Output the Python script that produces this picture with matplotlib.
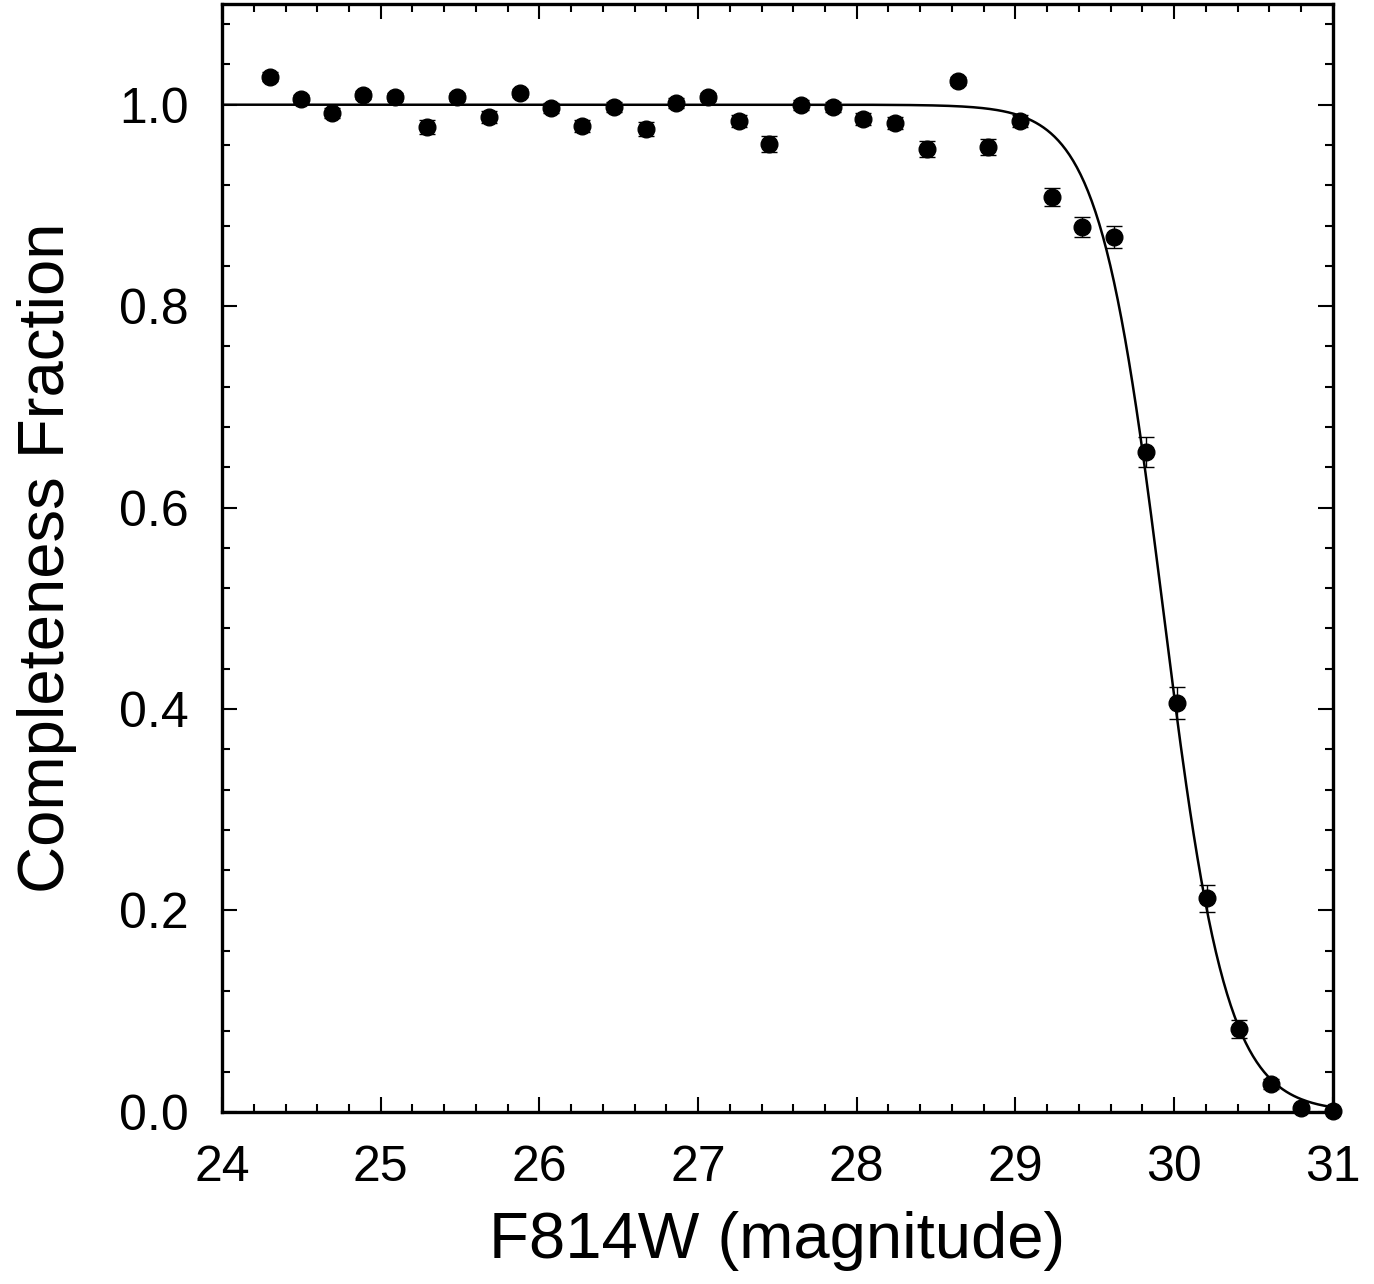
import numpy as np
import matplotlib
matplotlib.use("Agg")
import matplotlib.pyplot as plt
from matplotlib.ticker import MultipleLocator, FormatStrFormatter

plt.rcParams['font.family'] = ['Liberation Sans', 'DejaVu Sans']

# magnitude bins and measured completeness
mag = [24.30, 24.50, 24.69, 24.89, 25.09, 25.29, 25.48, 25.68, 25.88, 26.07,
       26.27, 26.47, 26.67, 26.86, 27.06, 27.26, 27.45, 27.65, 27.85, 28.04,
       28.24, 28.44, 28.64, 28.83, 29.03, 29.23, 29.42, 29.62, 29.82, 30.02,
       30.21, 30.41, 30.61, 30.80, 31.00]
frac = [1.028, 1.006, 0.992, 1.010, 1.008, 0.978, 1.008, 0.988, 1.012, 0.997,
        0.979, 0.998, 0.976, 1.002, 1.008, 0.984, 0.961, 1.000, 0.998, 0.986,
        0.982, 0.956, 1.024, 0.958, 0.984, 0.908, 0.879, 0.869, 0.655, 0.406,
        0.212, 0.082, 0.028, 0.004, 0.001]
err = [0.004, 0.004, 0.005, 0.004, 0.004, 0.007, 0.004, 0.006, 0.004, 0.005,
       0.006, 0.005, 0.007, 0.005, 0.004, 0.006, 0.008, 0.005, 0.005, 0.006,
       0.006, 0.008, 0.004, 0.008, 0.006, 0.009, 0.010, 0.011, 0.015, 0.016,
       0.013, 0.009, 0.005, 0.003, 0.001]

# logistic fit parameters
m50 = 29.93
width = 0.20

fig = plt.figure(figsize=(13.74, 12.84), dpi=100)
ax = fig.add_axes([0.1616, 0.134, 0.8084, 0.8629])

mm = np.linspace(24.0, 31.0, 600)
ax.plot(mm, 1.0 / (1.0 + np.exp((mm - m50) / width)), color='black', lw=1.8, zorder=2)

ax.errorbar(mag, frac, yerr=err, fmt='o', color='black', ms=12, elinewidth=1.0,
            capsize=6, capthick=1.0, zorder=3, clip_on=False)

ax.set_xlim(24, 31)
ax.set_ylim(0, 1.1)
ax.xaxis.set_major_locator(MultipleLocator(1))
ax.xaxis.set_minor_locator(MultipleLocator(0.2))
ax.yaxis.set_major_locator(MultipleLocator(0.2))
ax.yaxis.set_minor_locator(MultipleLocator(0.04))
ax.yaxis.set_major_formatter(FormatStrFormatter('%.1f'))

ax.tick_params(which='both', direction='in', top=True, right=True, width=1.5)
ax.tick_params(which='major', length=11, labelsize=36, pad=24)
ax.tick_params(which='minor', length=6)
for s in ax.spines.values():
    s.set_linewidth(2.4)

ax.set_xlabel('F814W (magnitude)', fontsize=47, labelpad=14)
ax.set_ylabel('Completeness Fraction', fontsize=47, labelpad=30)

fig.savefig('out.png', dpi=100)
